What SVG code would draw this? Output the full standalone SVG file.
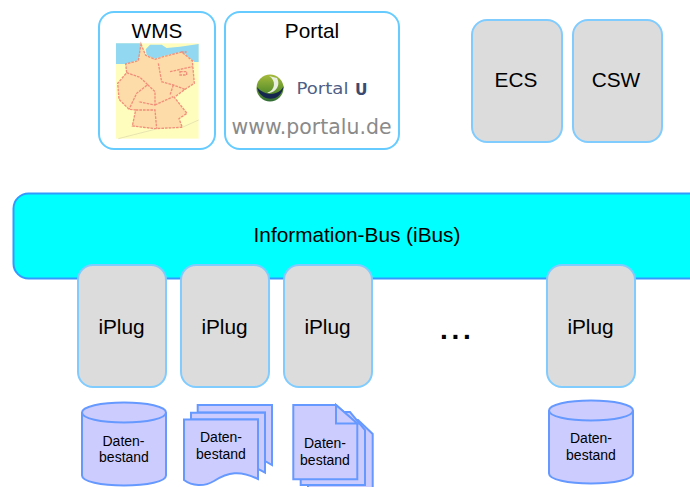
<svg xmlns="http://www.w3.org/2000/svg" width="690" height="487" viewBox="0 0 690 487">
<style>
text{font-family:"Liberation Sans",Arial,sans-serif;fill:#000;text-anchor:middle}
.lbl{font-size:20.800px}
.small{font-size:14px}
.app{fill:#fff;stroke:#66ccff;stroke-width:2}
.gray{fill:#dcdcdc;stroke:#80ccff;stroke-width:2}
.store{fill:#ccccff;stroke:#6699ff;stroke-width:2;stroke-linejoin:miter}
.border{fill:none;stroke:#f0806f;stroke-width:4;stroke-opacity:.85;stroke-dasharray:8 3}
</style>
<defs>
<linearGradient id="ball" x1="0" y1="0" x2="0" y2="1"><stop offset="0" stop-color="#a6bb3c"/><stop offset=".55" stop-color="#66962e"/><stop offset="1" stop-color="#2f6b35"/></linearGradient>
<filter id="soft" x="-5%" y="-5%" width="110%" height="110%"><feGaussianBlur stdDeviation="2"/></filter>
<path id="cyl" class="store" d="M0 10V73C0 79 19 83 42 83S84 79 84 73V10C84 4 65 0 42 0S0 4 0 10C0 16 19 20 42 20S84 16 84 10"/>
</defs>
<g id="bus"><rect x="13.500" y="193.500" width="720" height="85" rx="15" fill="#00ffff" stroke="#3399ff" stroke-width="2"/><text class="lbl" x="357" y="242">Information-Bus (iBus)</text></g>
<g id="wms"><rect class="app" x="99" y="12" width="116" height="137" rx="15"/><text class="lbl" x="157" y="38">WMS</text>
<g transform="translate(105 40) scale(.3333)">
<rect x="33" y="10" width="248" height="286" fill="#fffdbe"/>
<path d="M33 10H106L112 45L100 60L62 72H33Z" fill="#93d8f1"/>
<path d="M135 14H170L185 24L225 20L281 12V66L268 66L240 42L228 36L175 48L150 56L125 46L122 28Z" fill="#93d8f1"/>
<g filter="url(#soft)">
<path d="M108 12L122 46L150 58L175 50L230 36L262 62L268 130L240 148L208 172L246 220L222 236L232 262L150 266L82 258L92 210L72 208L42 178L38 130L65 98L62 72L100 62Z" fill="#fddcaa"/>
<path class="border" d="M108 12L122 46L150 58L175 50L230 36L262 62L268 130L240 148L208 172L246 220L222 236L232 262L150 266L82 258L92 210L72 208L42 178L38 130L65 98L62 72L100 62ZM65 98L105 112L128 134L95 160L72 208M128 134L150 155L150 195L100 185M150 195L205 170M160 70L170 125L205 135L240 148M205 135L195 165M92 210L150 210L155 266M195 95L262 80M225 95H245V105H225ZM228 36H245"/>
<path d="M150 268L40 296M232 262L281 240" fill="none" stroke="#ddd8a8" stroke-width="2"/>
</g></g></g>
<g id="portal"><rect class="app" x="225" y="12" width="174" height="137" rx="15"/><text class="lbl" x="312" y="38">Portal</text>
<circle cx="270" cy="88" r="13.500" fill="url(#ball)"/>
<path d="M257 87C259 101 281 105 284 85C281 95 266 98 257 87Z" fill="#16274f"/>
<path d="M269 76C276 80 276 90 267 93C272 94 282 88 277 78Z" fill="#e9efe0"/>
<text x="296.500" y="94" textLength="52" lengthAdjust="spacingAndGlyphs" style="text-anchor:start;font-family:'DejaVu Sans',sans-serif;font-size:15px;fill:#4f5f85">Portal</text>
<text x="355" y="94.500" textLength="12.500" lengthAdjust="spacingAndGlyphs" style="text-anchor:start;font-family:'DejaVu Sans',sans-serif;font-size:16px;font-weight:bold;fill:#3a4a70">U</text>
<text x="311.500" y="134" textLength="160" lengthAdjust="spacingAndGlyphs" style="font-family:'DejaVu Sans',sans-serif;font-size:21px;fill:#8a8a8a">www.portalu.de</text></g>
<g id="ecs"><rect class="gray" x="472" y="20" width="90" height="122" rx="15"/><text class="lbl" x="516" y="87">ECS</text></g>
<g id="csw"><rect class="gray" x="573" y="20" width="89" height="122" rx="15"/><text class="lbl" x="616" y="87">CSW</text></g>
<g id="iplug1"><rect class="gray" x="78" y="265" width="88" height="122" rx="15"/><text class="lbl" x="121.500" y="334">iPlug</text></g>
<g id="iplug2"><rect class="gray" x="181" y="265" width="88" height="122" rx="15"/><text class="lbl" x="224.500" y="334">iPlug</text></g>
<g id="iplug3"><rect class="gray" x="284" y="265" width="88" height="122" rx="15"/><text class="lbl" x="327.500" y="334">iPlug</text></g>
<g id="iplug4"><rect class="gray" x="547" y="265" width="88" height="122" rx="15"/><text class="lbl" x="590.500" y="334">iPlug</text></g>
<text x="440" y="339" style="text-anchor:start;font-size:28px;font-weight:bold;letter-spacing:3.700px">...</text>
<g id="store1"><use href="#cyl" x="82" y="402.500"/><text class="small" x="123.500" y="446">Daten-</text><text class="small" x="124" y="462">bestand</text></g>
<g id="store2"><path class="store" d="M197.700 412.500V405H272V465L265 461V412.500Z"/><path class="store" d="M191 419.500V412.700H265V472.700L258 469V419.500Z"/>
<path class="store" d="M184 419.500H258V479C240 470 228 472 214 481C204 487 192 486 184 480Z"/>
<text class="small" x="221" y="442">Daten-</text><text class="small" x="221" y="459">bestand</text></g>
<g id="store3"><path class="store" d="M308 420V492H372.700V434L358 420Z"/><path class="store" d="M300.700 412V485H365V430L350 412Z"/>
<path class="store" d="M293.300 405V479.300H357.300V424L336 405Z"/><path class="store" d="M336 405V423.500H357.300Z"/>
<text class="small" x="325" y="448">Daten-</text><text class="small" x="325" y="465">bestand</text></g>
<g id="store4"><use href="#cyl" x="549" y="400.500"/><text class="small" x="591" y="443">Daten-</text><text class="small" x="591" y="460">bestand</text></g>
<g id="connectors"/>
</svg>
